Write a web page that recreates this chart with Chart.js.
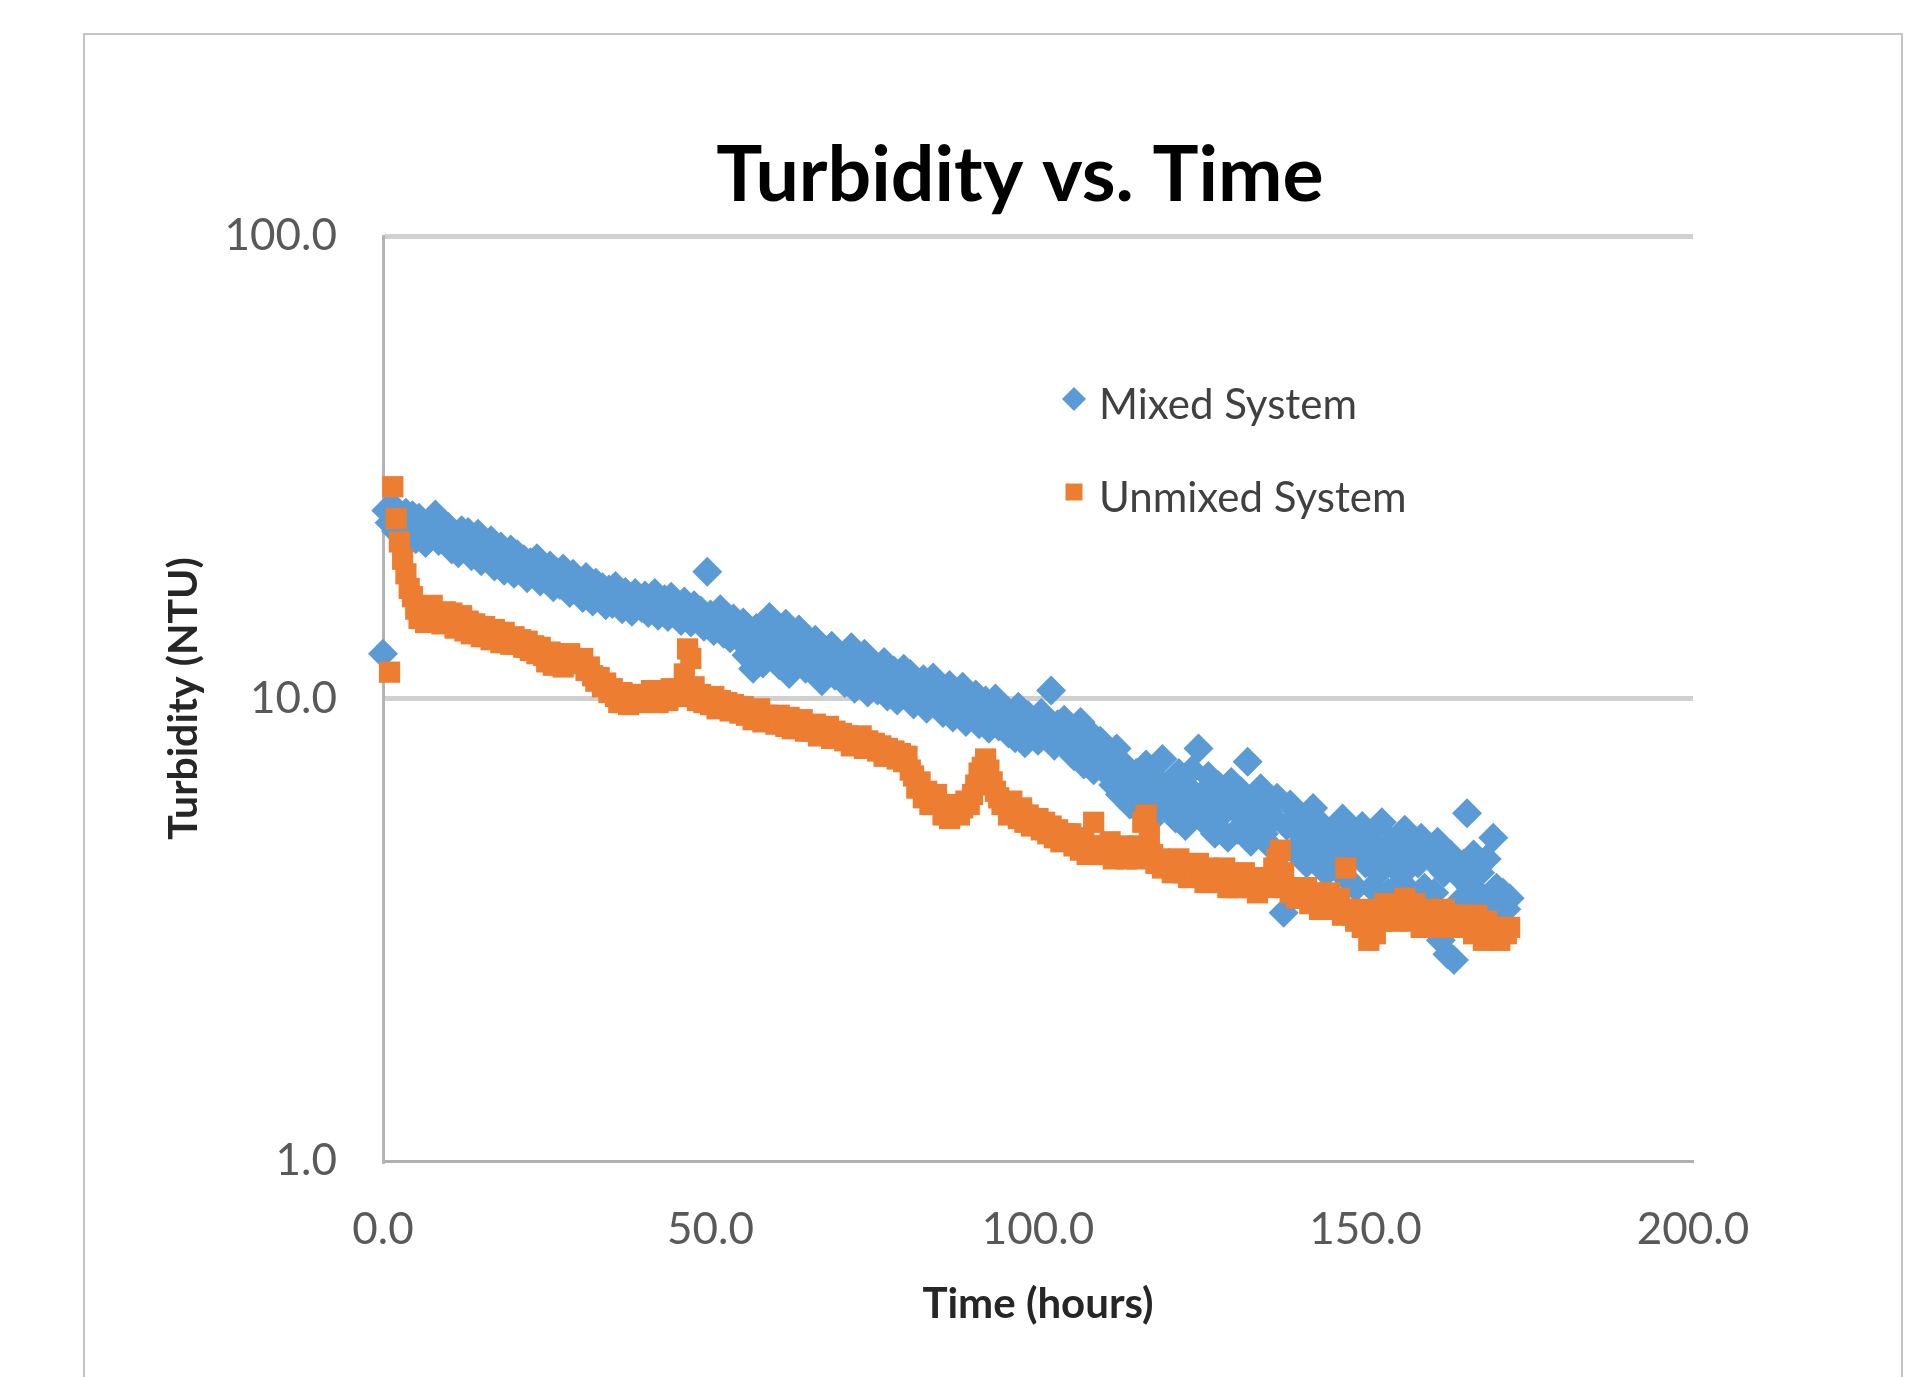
<!DOCTYPE html>
<html>
<head>
<meta charset="utf-8">
<title>Turbidity vs. Time</title>
<script src="https://cdn.jsdelivr.net/npm/chart.js@4.4.1/dist/chart.umd.min.js"></script>
<style>
  html, body { margin: 0; padding: 0; background: #fff; }
  #frame {
    position: absolute; left: 83px; top: 33px; width: 1820px; height: 1400px;
    border: 2px solid #c4c4c4; box-sizing: border-box;
  }
  #wrap { position: absolute; left: 0; top: 0; width: 1919px; height: 1377px; }
</style>
</head>
<body>
<div id="frame"></div>
<div id="wrap"><canvas id="chart"></canvas></div>
<script>
// sample times (hours)
const hours = [
  0, 0.5, 1, 1.5, 2, 2.5, 3, 3.5, 4, 4.5, 5, 5.5, 6, 6.5, 7, 7.5, 8, 8.5, 9, 9.5,
  10, 10.5, 11, 11.5, 12, 12.5, 13, 13.5, 14, 14.5, 15, 15.5, 16, 16.5, 17, 17.5, 18, 18.5, 19, 19.5,
  20, 20.5, 21, 21.5, 22, 22.5, 23, 23.5, 24, 24.5, 25, 25.5, 26, 26.5, 27, 27.5, 28, 28.5, 29, 29.5,
  30, 30.5, 31, 31.5, 32, 32.5, 33, 33.5, 34, 34.5, 35, 35.5, 36, 36.5, 37, 37.5, 38, 38.5, 39, 39.5,
  40, 40.5, 41, 41.5, 42, 42.5, 43, 43.5, 44, 44.5, 45, 45.5, 46, 46.5, 47, 47.5, 48, 48.5, 49, 49.5,
  50, 50.5, 51, 51.5, 52, 52.5, 53, 53.5, 54, 54.5, 55, 55.5, 56, 56.5, 57, 57.5, 58, 58.5, 59, 59.5,
  60, 60.5, 61, 61.5, 62, 62.5, 63, 63.5, 64, 64.5, 65, 65.5, 66, 66.5, 67, 67.5, 68, 68.5, 69, 69.5,
  70, 70.5, 71, 71.5, 72, 72.5, 73, 73.5, 74, 74.5, 75, 75.5, 76, 76.5, 77, 77.5, 78, 78.5, 79, 79.5,
  80, 80.5, 81, 81.5, 82, 82.5, 83, 83.5, 84, 84.5, 85, 85.5, 86, 86.5, 87, 87.5, 88, 88.5, 89, 89.5,
  90, 90.5, 91, 91.5, 92, 92.5, 93, 93.5, 94, 94.5, 95, 95.5, 96, 96.5, 97, 97.5, 98, 98.5, 99, 99.5,
  100, 100.5, 101, 101.5, 102, 102.5, 103, 103.5, 104, 104.5, 105, 105.5, 106, 106.5, 107, 107.5, 108, 108.5, 109, 109.5,
  110, 110.5, 111, 111.5, 112, 112.5, 113, 113.5, 114, 114.5, 115, 115.5, 116, 116.5, 117, 117.5, 118, 118.5, 119, 119.5,
  120, 120.5, 121, 121.5, 122, 122.5, 123, 123.5, 124, 124.5, 125, 125.5, 126, 126.5, 127, 127.5, 128, 128.5, 129, 129.5,
  130, 130.5, 131, 131.5, 132, 132.5, 133, 133.5, 134, 134.5, 135, 135.5, 136, 136.5, 137, 137.5, 138, 138.5, 139, 139.5,
  140, 140.5, 141, 141.5, 142, 142.5, 143, 143.5, 144, 144.5, 145, 145.5, 146, 146.5, 147, 147.5, 148, 148.5, 149, 149.5,
  150, 150.5, 151, 151.5, 152, 152.5, 153, 153.5, 154, 154.5, 155, 155.5, 156, 156.5, 157, 157.5, 158, 158.5, 159, 159.5,
  160, 160.5, 161, 161.5, 162, 162.5, 163, 163.5, 164, 164.5, 165, 165.5, 166, 166.5, 167, 167.5, 168, 168.5, 169, 169.5,
  170, 170.5, 171, 171.5, 172
];

// turbidity, mixed system (NTU)
const mixed = [
  12.5, 25.5, 24.0, 26.0, 23.0, 24.8, 22.4, 25.2, 23.6, 24.9, 22.1, 24.6, 23.3, 21.7, 24.0, 22.8, 25.0, 21.9, 23.4, 22.2,
  23.5, 21.0, 22.6, 20.6, 23.1, 21.8, 22.9, 20.3, 21.6, 22.7, 19.8, 21.9, 20.4, 22.0, 19.3, 20.7, 21.3, 18.9, 20.2, 21.0,
  18.6, 20.5, 19.1, 20.0, 18.2, 19.7, 18.9, 20.1, 17.9, 19.2, 18.0, 19.4, 17.4, 18.8, 17.6, 19.1, 18.3, 16.9, 18.6, 17.7,
  17.9, 16.5, 18.3, 17.1, 16.2, 17.8, 16.8, 17.4, 15.9, 17.2, 16.0, 17.5, 16.6, 15.6, 17.0, 16.3, 15.4, 16.9, 16.1, 15.7,
  16.7, 15.3, 16.0, 16.9, 15.1, 15.9, 16.4, 15.0, 16.6, 15.5, 15.8, 14.7, 16.2, 15.2, 14.6, 15.9, 14.8, 15.5, 14.3, 18.8,
  15.2, 14.0, 14.9, 15.6, 13.8, 14.6, 13.5, 14.9, 14.1, 13.4, 14.6, 12.4, 13.8, 11.6, 14.2, 12.9, 11.9, 13.6, 15.0, 12.2,
  13.9, 11.8, 12.6, 14.5, 11.3, 13.3, 12.1, 14.1, 12.8, 11.6, 12.9, 11.5, 13.4, 12.1, 10.9, 12.5, 11.7, 13.0, 11.2, 12.3,
  12.2, 10.8, 11.6, 12.9, 10.5, 11.9, 11.1, 12.5, 10.3, 11.4, 11.8, 10.4, 11.2, 12.0, 10.1, 10.9, 11.5, 9.9, 10.7, 11.6,
  10.2, 11.3, 9.7, 10.8, 10.0, 11.0, 9.5, 10.4, 11.1, 9.8, 10.5, 9.3, 9.9, 10.7, 9.1, 10.2, 9.6, 10.6, 8.9, 9.8,
  9.4, 10.2, 8.8, 9.7, 9.9, 8.6, 9.3, 10.0, 8.7, 9.2, 9.5, 8.4, 9.1, 8.2, 9.6, 8.8, 8.0, 9.2, 8.5, 8.9,
  8.1, 9.3, 8.7, 8.3, 10.4, 7.9, 8.8, 8.2, 9.0, 7.8, 8.6, 7.5, 8.3, 8.9, 7.2, 7.9, 8.4, 7.0, 7.7, 8.1,
  7.6, 6.9, 7.3, 6.5, 7.8, 6.2, 6.8, 7.1, 5.9, 6.6, 6.9, 5.7, 6.4, 7.2, 5.4, 6.1, 6.7, 5.8, 7.4, 6.3,
  5.9, 6.6, 5.5, 6.9, 6.0, 5.3, 6.4, 7.0, 5.7, 7.8, 6.2, 5.4, 6.8, 5.9, 5.1, 6.5, 5.6, 6.1, 5.0, 6.6,
  5.8, 5.2, 6.3, 5.5, 7.3, 4.9, 6.0, 5.4, 6.4, 5.1, 5.7, 4.8, 5.5, 6.1, 4.6, 3.44, 5.3, 5.9, 4.7, 5.2,
  4.7, 5.5, 4.4, 5.0, 5.8, 4.5, 4.9, 5.3, 4.2, 4.8, 5.2, 4.3, 4.9, 5.5, 4.1, 4.6, 5.0, 3.9, 4.7, 5.3,
  4.4, 5.1, 3.9, 4.8, 4.2, 5.4, 4.5, 3.8, 4.9, 4.3, 4.7, 4.0, 5.2, 4.3, 3.7, 4.8, 4.4, 5.0, 3.9, 4.6,
  4.5, 3.8, 4.9, 3.0, 4.2, 2.8, 4.6, 2.72, 3.6, 4.1, 4.4, 5.65, 3.9, 4.6, 3.5, 4.2, 3.7, 4.5, 3.3, 5.0,
  3.9, 3.6, 3.8, 3.5, 3.7
];

// turbidity, unmixed system (NTU)
const unmixed = [
  null, null, 11.4, 28.7, 24.5, 21.8, 20.0, 18.6, 17.3, 16.6, 15.6, 14.9, 15.8, 14.6, 15.3, 15.9, 14.7, 15.2, 14.5, 15.4,
  14.6, 15.3, 14.2, 14.9, 15.1, 14.0, 14.7, 13.8, 14.5, 14.2, 13.6, 14.3, 13.9, 13.4, 14.1, 13.7, 13.2, 13.9, 13.5, 13.1,
  13.6, 13.1, 13.4, 12.9, 13.3, 12.7, 13.0, 12.5, 12.9, 12.4, 12.0, 12.6, 11.8, 12.4, 12.1, 11.7, 12.3, 12.5, 11.9, 12.2,
  11.9, 12.2, 11.5, 11.7, 11.2, 10.9, 11.1, 10.6, 10.8, 10.3, 10.5, 10.1, 9.8, 10.3, 10.0, 9.7, 10.2, 9.9, 10.1, 9.8,
  10.2, 9.9, 10.4, 10.0, 9.8, 10.3, 10.1, 9.9, 10.5, 10.2, 10.1, 10.4, 11.3, 12.8, 12.2, 10.6, 9.9, 10.2, 9.8, 10.0,
  9.7, 10.1, 9.5, 9.9, 9.6, 9.8, 9.4, 9.7, 9.5, 9.3, 9.6, 9.2, 9.4, 9.0, 9.3, 9.5, 8.9, 9.2, 9.0, 9.1,
  8.8, 9.2, 8.9, 8.7, 9.1, 8.6, 8.9, 8.8, 9.0, 8.5, 8.7, 8.5, 8.8, 8.3, 8.6, 8.4, 8.7, 8.2, 8.5, 8.3,
  8.4, 8.1, 8.3, 7.9, 8.2, 8.0, 8.3, 7.8, 8.1, 7.9, 8.0, 7.7, 7.9, 7.5, 7.8, 7.6, 7.7, 7.4, 7.6, 7.3,
  7.5, 7.0, 6.8, 6.4, 6.6, 6.1, 6.3, 5.9, 6.0, 6.2, 5.9, 5.6, 5.8, 5.5, 5.9, 5.7, 5.6, 5.8, 6.0, 5.9,
  6.2, 6.5, 6.9, 7.1, 7.4, 7.0, 6.6, 6.3, 6.1, 5.9, 5.9, 5.6, 6.0, 5.7, 5.5, 5.8, 5.4, 5.6, 5.3, 5.5,
  5.5, 5.2, 5.4, 5.1, 5.3, 5.0, 5.2, 4.9, 5.1, 5.0, 5.1, 4.8, 5.0, 4.7, 4.9, 4.6, 4.8, 5.4, 4.7, 4.6,
  4.8, 4.6, 4.9, 4.5, 4.7, 4.6, 4.8, 4.5, 4.7, 4.6, 4.5, 4.8, 5.4, 5.6, 5.1, 4.6, 4.4, 4.5, 4.3, 4.4,
  4.4, 4.2, 4.3, 4.5, 4.2, 4.3, 4.1, 4.3, 4.2, 4.4, 4.2, 4.0, 4.3, 4.1, 4.2, 4.0, 4.1, 4.3, 3.9, 4.1,
  4.1, 3.9, 4.0, 4.2, 4.0, 3.9, 4.1, 3.8, 4.0, 4.1, 3.9, 4.0, 4.3, 4.5, 4.7, 4.2, 3.9, 3.8, 3.9, 3.7,
  3.8, 3.7, 3.9, 3.6, 3.8, 3.7, 3.5, 3.7, 3.6, 3.8, 3.6, 3.5, 3.7, 3.4, 4.3, 3.5, 3.4, 3.3, 3.5, 3.2,
  3.2, 3.0, 3.4, 3.1, 3.5, 3.3, 3.6, 3.4, 3.5, 3.3, 3.6, 3.4, 3.7, 3.5, 3.3, 3.6, 3.4, 3.2, 3.5, 3.3,
  3.5, 3.3, 3.4, 3.2, 3.5, 3.3, 3.4, 3.2, 3.4, 3.3, 3.4, 3.2, 3.3, 3.1, 3.4, 3.2, 3.0, 3.3, 3.1, 3.2,
  3.1, 3.0, 3.2, 3.1, 3.2
];

const xTicks = [0, 50, 100, 150, 200];
const yTicks = [1, 10, 100];
const seriesNames = ["Mixed System", "Unmixed System"];
const seriesColors = ["#5B9BD5", "#ED7D31"];

const toPoints = (vals) =>
  hours.map((h, i) => ({ x: h, y: vals[i] })).filter((p) => p.y !== null);

// title sits a little left of the plot centre, like the original
const titlePlugin = {
  id: "plotTitle",
  afterDraw(chart) {
    const ctx = chart.ctx;
    ctx.save();
    ctx.font = "bold 77px Lato";
    ctx.fillStyle = "#000";
    ctx.textAlign = "center";
    ctx.textBaseline = "alphabetic";
    ctx.fillText("Turbidity vs. Time", 1020, 201);
    ctx.restore();
  },
};

// legend drawn inside the plot area
const legendPlugin = {
  id: "insideLegend",
  afterDraw(chart) {
    const ctx = chart.ctx;
    ctx.save();
    ctx.font = "42px Lato";
    ctx.textBaseline = "middle";
    ctx.textAlign = "left";
    chart.data.datasets.forEach((ds, i) => {
      const y = 405 + i * 93;
      ctx.fillStyle = ds.backgroundColor;
      Chart.helpers.drawPoint(
        ctx,
        { pointStyle: ds.pointStyle, radius: 12, borderWidth: 0, rotation: 0 },
        1074,
        y - 6
      );
      ctx.fillStyle = "#404040";
      ctx.fillText(ds.label, 1099, y);
    });
    ctx.restore();
  },
};

new Chart(document.getElementById("chart"), {
  type: "scatter",
  data: {
    datasets: [
      {
        label: seriesNames[0],
        data: toPoints(mixed),
        backgroundColor: seriesColors[0],
        borderColor: seriesColors[0],
        pointStyle: "rectRot",
        pointRadius: 15,
        pointBorderWidth: 0,
        order: 1,
        clip: false,
      },
      {
        label: seriesNames[1],
        data: toPoints(unmixed),
        backgroundColor: seriesColors[1],
        borderColor: seriesColors[1],
        pointStyle: "rect",
        pointRadius: 15,
        pointBorderWidth: 0,
        order: 0,
        clip: false,
      },
    ],
  },
  options: {
    responsive: true,
    maintainAspectRatio: false,
    animation: false,
    layout: { padding: { top: 236, left: 130, right: 226, bottom: 36 } },
    plugins: {
      legend: { display: false },
      title: { display: false },
      tooltip: { enabled: false },
    },
    scales: {
      x: {
        type: "linear",
        min: 0,
        max: 200,
        afterBuildTicks: (scale) => {
          scale.ticks = xTicks.map((v) => ({ value: v }));
        },
        afterFit: (scale) => {
          scale.height = 180;
        },
        grid: { display: false, drawTicks: false },
        border: { display: true, color: "#b0b0b0", width: 3 },
        ticks: {
          padding: 42,
          color: "#595959",
          font: { family: "Lato", size: 44 },
          maxRotation: 0,
          autoSkip: false,
          callback: (v) => Number(v).toFixed(1),
        },
        title: {
          display: true,
          text: "Time (hours)",
          color: "#262626",
          font: { family: "Lato", size: 42, weight: "bold" },
          padding: { top: 0, bottom: 11 },
        },
      },
      y: {
        type: "logarithmic",
        min: 1,
        max: 100,
        afterBuildTicks: (scale) => {
          scale.ticks = yTicks.map((v) => ({ value: v }));
        },
        afterFit: (scale) => {
          scale.width = 253;
        },
        grid: {
          color: (c) => (c.tick && c.tick.value === 1 ? "rgba(0,0,0,0)" : "#d0d0d0"),
          lineWidth: 5,
          drawTicks: false,
        },
        border: { display: true, color: "#b4b4b4", width: 3 },
        ticks: {
          padding: 46,
          color: "#595959",
          font: { family: "Lato", size: 44 },
          autoSkip: false,
          callback: (v) => Number(v).toFixed(1),
        },
        title: {
          display: true,
          text: "Turbidity (NTU)",
          color: "#262626",
          font: { family: "Lato", size: 41, weight: "bold" },
          padding: { top: 29, bottom: 0 },
        },
      },
    },
  },
  plugins: [titlePlugin, legendPlugin],
});
</script>
</body>
</html>
